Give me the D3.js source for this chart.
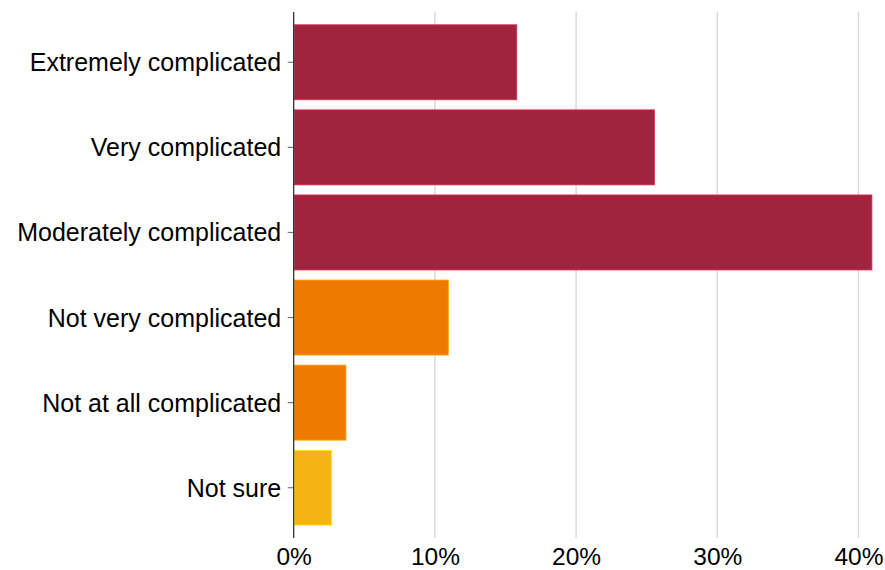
<!DOCTYPE html>
<html>
<head>
<meta charset="utf-8">
<script src="https://cdn.jsdelivr.net/npm/d3@7"></script>
<style>
  html, body { margin: 0; padding: 0; background: #fff; }
  svg { display: block; }
  text { font-family: "Liberation Sans", Arial, sans-serif; }
</style>
</head>
<body>
<svg id="chart" width="885" height="570"></svg>
<script>
const categories = ["Extremely complicated", "Very complicated", "Moderately complicated", "Not very complicated", "Not at all complicated", "Not sure"];
const values = [15.8, 25.55, 40.95, 10.95, 3.7, 2.7];
const barColors = ["#A0243E", "#A0243E", "#A0243E", "#EF7A00", "#EF7A00", "#F5B414"];
const xTicks = [0, 10, 20, 30, 40];
const xTickLabels = ["0%", "10%", "20%", "30%", "40%"];

const svg = d3.select("#chart");
const x0 = 293.7, yTop = 12, yBot = 538;
const x = d3.scaleLinear().domain([0, 40]).range([x0, 858.5]);
const y = d3.scaleBand().domain(categories).range([yTop, yBot]).paddingInner(0.118).paddingOuter(0.15);

// gridlines
svg.append("g").selectAll("line").data(xTicks.slice(1)).join("line")
  .attr("x1", d => x(d)).attr("x2", d => x(d))
  .attr("y1", yTop).attr("y2", yBot)
  .attr("stroke", "#d2d2d8").attr("stroke-width", 1.2);

// bars
svg.append("g").selectAll("rect").data(categories).join("rect")
  .attr("x", x(0) + 0.5)
  .attr("y", d => y(d))
  .attr("width", (d, i) => x(values[i]) - x(0) - 0.5)
  .attr("height", y.bandwidth())
  .attr("fill", (d, i) => barColors[i])
  .attr("stroke", (d, i) => d3.color(barColors[i]).brighter(0.9))
  .attr("stroke-width", 0.8);

// y axis
const yAxis = d3.axisLeft(y).tickSize(6).tickPadding(6.5);
const gy = svg.append("g").attr("transform", `translate(${x0},0)`).call(yAxis);
gy.attr("font-size", null).attr("font-family", null);
gy.select(".domain").remove();
gy.selectAll(".tick line").attr("stroke", "#777").attr("stroke-width", 1.2);
gy.selectAll(".tick text").style("font-size", "25px").attr("fill", "#000").attr("dy", "0.36em");
svg.append("line").attr("x1", x0).attr("x2", x0).attr("y1", yTop).attr("y2", yBot)
  .attr("stroke", "#222").attr("stroke-width", 1.2);

// x axis labels
const xAxis = d3.axisBottom(x).tickValues(xTicks).tickFormat((d, i) => xTickLabels[i]).tickSize(0).tickPadding(10);
const gx = svg.append("g").attr("transform", `translate(0,${yBot})`).call(xAxis);
gx.attr("font-size", null).attr("font-family", null);
gx.select(".domain").remove();
gx.selectAll(".tick text").style("font-size", "24.5px").attr("fill", "#000");
</script>
</body>
</html>
